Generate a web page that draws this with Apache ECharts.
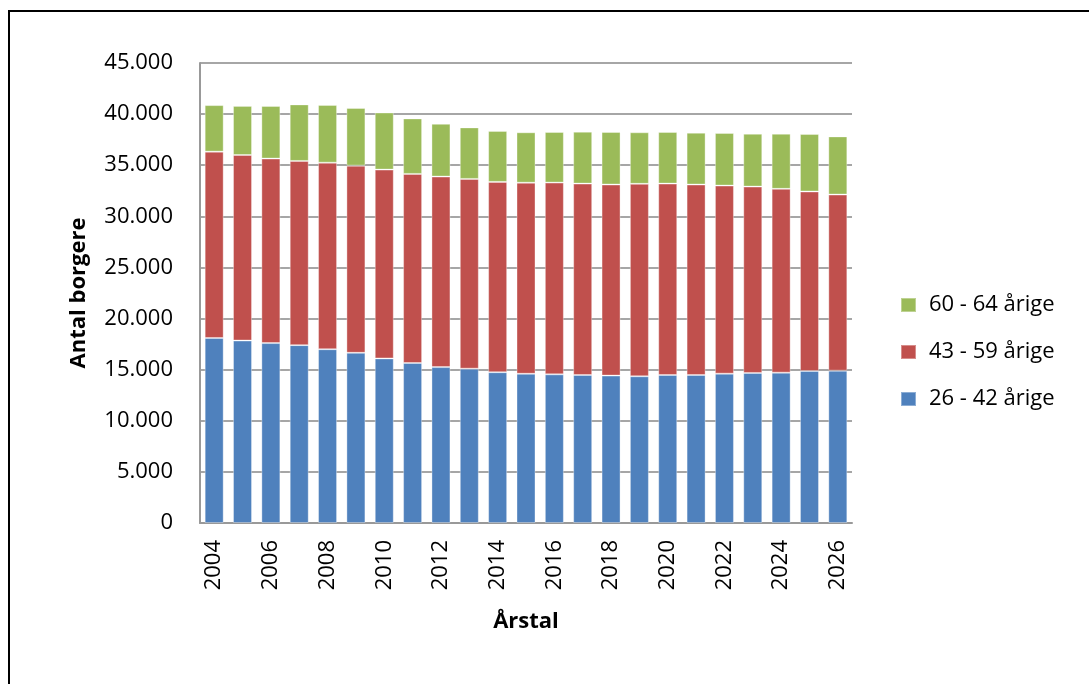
<!DOCTYPE html>
<html>
<head>
<meta charset="utf-8">
<script src="https://cdn.jsdelivr.net/npm/echarts@6/dist/echarts.min.js"></script>
<style>
html,body{margin:0;padding:0;background:#fff;}
#chart{width:1089px;height:684px;}
</style>
</head>
<body>
<div id="chart"></div>
<script>
const years = ['2004','2005','2006','2007','2008','2009','2010','2011','2012','2013','2014','2015','2016','2017','2018','2019','2020','2021','2022','2023','2024','2025','2026'];
const age26_42 = [18100,17850,17600,17400,17000,16650,16100,15650,15250,15100,14750,14600,14540,14480,14420,14350,14480,14480,14610,14680,14710,14870,14900];
const age43_59 = [18230,18150,18050,18020,18250,18310,18470,18500,18640,18560,18620,18690,18760,18720,18690,18830,18720,18630,18400,18230,17980,17560,17230];
const age60_64 = [4550,4800,5150,5530,5650,5640,5590,5430,5160,5040,4980,4930,4950,5080,5140,5040,5050,5070,5140,5170,5390,5620,5690];
const seriesNames = ['26 - 42 årige','43 - 59 årige','60 - 64 årige'];
const yTicks = {min:0, max:45000, interval:5000};

const FONT = 'Open Sans';
function fmt(v){
  if (v === 0) return '0';
  const s = String(Math.round(v));
  return s.replace(/\B(?=(\d{3})+(?!\d))/g, '.');
}
const chart = echarts.init(document.getElementById('chart'), null, {renderer:'canvas'});
const barBorder = 'rgba(255,255,255,0.35)';
chart.setOption({
  animation:false,
  backgroundColor:'#fff',
  textStyle:{fontFamily:FONT},
  graphic:[{
    type:'polyline',
    shape:{points:[[9,684],[9,11],[1089,11]]},
    style:{stroke:'#000',lineWidth:2,fill:null}
  }],
  grid:{left:200,right:237,top:63,bottom:161,containLabel:false},
  legend:{
    orient:'vertical',
    left:895,
    top:289,
    itemWidth:15,
    itemHeight:14,
    itemGap:25,
    icon:'rect',
    data:[seriesNames[2],seriesNames[1],seriesNames[0]],
    textStyle:{fontFamily:FONT,fontSize:22,color:'#000',padding:[0,0,0,8]}
  },
  xAxis:{
    type:'category',
    data:years,
    name:'Årstal',
    nameLocation:'middle',
    nameGap:88,
    nameTextStyle:{fontFamily:FONT,fontSize:22,fontWeight:'bold',color:'#000'},
    axisLine:{lineStyle:{color:'#999999',width:2}},
    axisTick:{show:false},
    axisLabel:{rotate:90,interval:1,margin:17,fontFamily:FONT,fontSize:22,color:'#000'}
  },
  yAxis:{
    type:'value',
    min:yTicks.min,max:yTicks.max,interval:yTicks.interval,
    name:'Antal borgere',
    nameLocation:'middle',
    nameGap:110,
    nameRotate:90,
    nameTextStyle:{fontFamily:FONT,fontSize:22,fontWeight:'bold',color:'#000'},
    axisLine:{show:true,lineStyle:{color:'#999999',width:2}},
    axisTick:{show:false},
    splitLine:{lineStyle:{color:'#a6a6a6',width:2}},
    axisLabel:{margin:27,fontFamily:FONT,fontSize:22,color:'#000',formatter:fmt}
  },
  series:[
    {name:seriesNames[0],type:'bar',stack:'a',data:age26_42,barWidth:'67%',
     itemStyle:{color:'#4F81BD',borderColor:barBorder,borderWidth:1}},
    {name:seriesNames[1],type:'bar',stack:'a',data:age43_59,barWidth:'67%',
     itemStyle:{color:'#C0504D',borderColor:barBorder,borderWidth:1}},
    {name:seriesNames[2],type:'bar',stack:'a',data:age60_64,barWidth:'67%',
     itemStyle:{color:'#9BBB59',borderColor:barBorder,borderWidth:1}}
  ]
});
</script>
</body>
</html>
